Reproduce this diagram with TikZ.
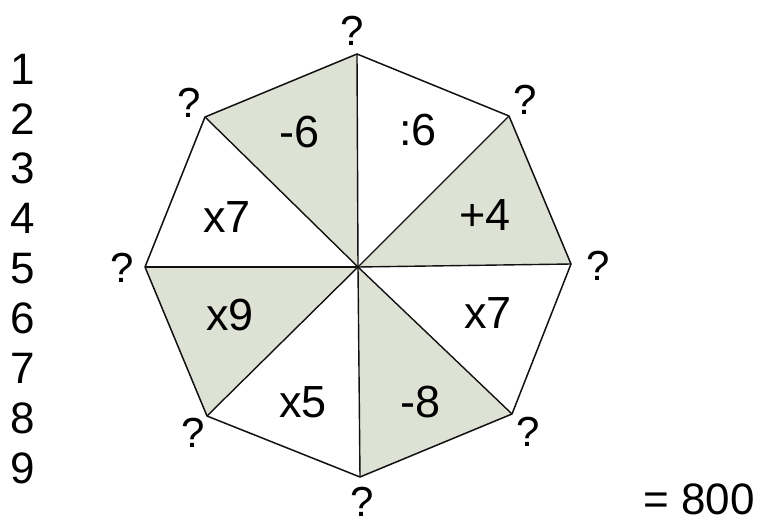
\documentclass[tikz,border=0pt]{standalone}
\usepackage{fontspec}
\setmainfont{Liberation Sans}
\usetikzlibrary{positioning}
\definecolor{clrshade}{HTML}{DEE2D5}
\definecolor{clrline}{HTML}{111111}
\definecolor{clrtext}{HTML}{000000}

\begin{document}
\begin{tikzpicture}[
    x=1pt, y=-1pt,
    every node/.style={font=\fontsize{44}{44}\selectfont, text=clrtext, inner sep=0pt},
    sector/.style={fill=clrshade, draw=none},
    rim/.style={draw=clrline, line width=1.5pt, line join=round},
    spoke/.style={draw=clrline, line width=1.4pt},
    qmark/.style={font=\fontsize{42}{42}\selectfont},
    oplabel/.style={font=\fontsize{45}{45}\selectfont},
    rownum/.style={font=\fontsize{44}{44}\selectfont},
]
\useasboundingbox (0,0) rectangle (758,524);
% octagon corners and centre
\coordinate (c) at (358,267);
\coordinate (v_1) at (357,54);
\coordinate (v_2) at (509,116);
\coordinate (v_3) at (571,264);
\coordinate (v_4) at (512,414);
\coordinate (v_5) at (360,477);
\coordinate (v_6) at (207,416);
\coordinate (v_7) at (145,267);
\coordinate (v_8) at (205,117);
% shaded sectors
\fill[sector] (c) -- (v_8) -- (v_1) -- cycle;
\fill[sector] (c) -- (v_2) -- (v_3) -- cycle;
\fill[sector] (c) -- (v_4) -- (v_5) -- cycle;
\fill[sector] (c) -- (v_7) -- (v_6) -- cycle;
% spokes and rim
\foreach \i in {1,...,8}
    \draw[spoke] (c) -- (v_\i);
\draw[rim] (v_1) -- (v_2) -- (v_3) -- (v_4) -- (v_5) -- (v_6) -- (v_7) -- (v_8) -- cycle;
% question marks at the corners
\node[qmark] (q_1) at (352,31) {?};
\node[qmark] (q_2) at (525,100) {?};
\node[qmark] (q_3) at (598,266) {?};
\node[qmark] (q_4) at (528,432) {?};
\node[qmark] (q_5) at (362,502) {?};
\node[qmark] (q_6) at (193,433) {?};
\node[qmark] (q_7) at (122,268) {?};
\node[qmark] (q_8) at (189,103) {?};
% operations in the sectors
\node[oplabel] (op_1) at (300,132) {-6};
\node[oplabel] (op_2) at (418,130) {:6};
\node[oplabel] (op_3) at (485,215) {+4};
\node[oplabel] (op_4) at (488,313) {x7};
\node[oplabel] (op_5) at (421,402) {-8};
\node[oplabel] (op_6) at (303,402) {x5};
\node[oplabel] (op_7) at (230,315) {x9};
\node[oplabel] (op_8) at (227,217) {x7};
% row numbers
\foreach \n in {1,...,9}
    \node[rownum] (r_\n) at (23,{69+49.9*(\n-1)}) {\n};
\node[rownum] (total) at (699,499) {= 800};
\end{tikzpicture}
\end{document}
